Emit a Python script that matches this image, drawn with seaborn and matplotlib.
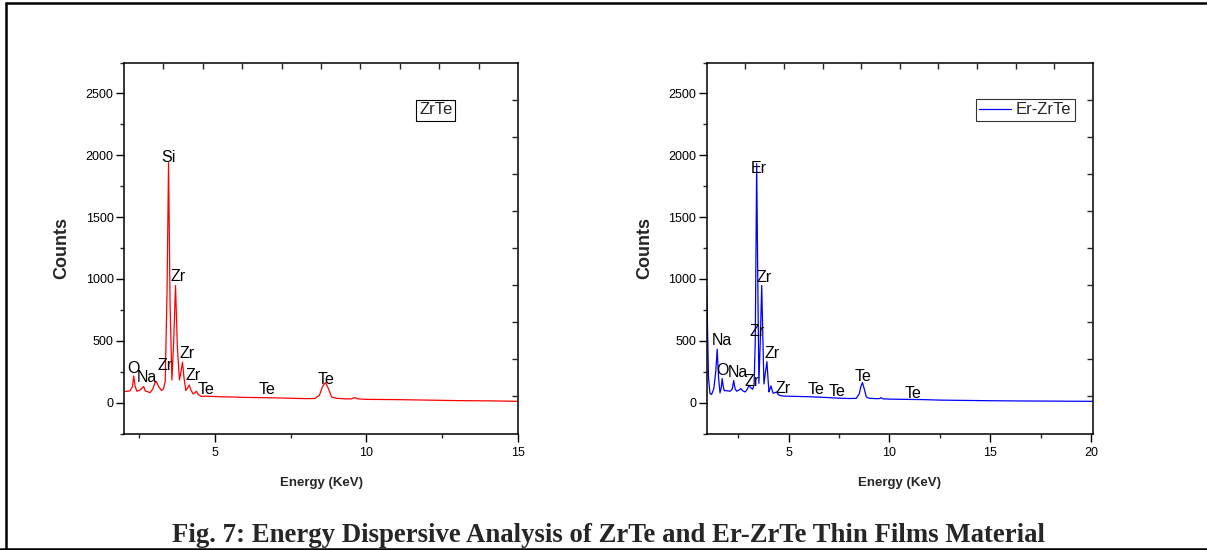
import numpy as np
import pandas as pd
import matplotlib
matplotlib.use("Agg")
import matplotlib.pyplot as plt
from matplotlib.lines import Line2D
from matplotlib.ticker import MultipleLocator
import seaborn as sns

# ---------------- data ----------------
zr_energy = [2.02, 2.20, 2.28, 2.32, 2.36, 2.42, 2.52, 2.60, 2.65, 2.70,
             2.78, 2.86, 2.95, 3.02, 3.07, 3.14, 3.24, 3.30, 3.36, 3.42,
             3.47, 3.52, 3.58, 3.64, 3.70, 3.76, 3.83, 3.88, 3.93, 3.98,
             4.04, 4.10, 4.15, 4.21, 4.28, 4.34, 4.39, 4.45, 4.55, 4.70,
             4.85, 5.20, 5.60, 6.00, 6.50, 7.00, 7.50, 8.00, 8.30, 8.45,
             8.55, 8.65, 8.75, 8.85, 9.00, 9.30, 9.50, 9.61, 9.72, 10.0,
             10.5, 11.0, 11.5, 12.0, 12.5, 13.0, 13.5, 14.0, 14.5, 15.0]
zr_counts = [89, 95, 130, 216, 140, 92, 100, 118, 130, 95,
             88, 80, 110, 160, 170, 130, 97, 110, 170, 900,
             1940, 800, 183, 500, 947, 450, 183, 250, 327, 200,
             97, 120, 142, 100, 70, 80, 92, 65, 50, 52,
             50, 47, 45, 42, 40, 38, 35, 32, 33, 60,
             130, 162, 110, 45, 35, 30, 30, 40, 30, 26,
             25, 24, 22, 20, 18, 16, 15, 14, 12, 10]

er_energy = [0.93, 0.97, 1.02, 1.09, 1.17, 1.28, 1.38, 1.45, 1.52, 1.59,
             1.65, 1.70, 1.75, 1.80, 1.95, 2.09, 2.20, 2.27, 2.34, 2.42,
             2.52, 2.62, 2.72, 2.84, 2.95, 3.03, 3.12, 3.21, 3.28, 3.34,
             3.41, 3.47, 3.52, 3.59, 3.66, 3.72, 3.77, 3.85, 3.92, 3.97,
             4.02, 4.07, 4.12, 4.18, 4.23, 4.32, 4.40, 4.48, 4.57, 4.80,
             5.30, 5.90, 6.50, 7.00, 7.55, 8.00, 8.35, 8.50, 8.58, 8.66,
             8.75, 8.85, 9.00, 9.30, 9.50, 9.58, 9.68, 10.0, 10.8, 11.7,
             12.5, 13.5, 15.0, 16.5, 18.0, 19.0, 20.08]
er_counts = [950, 600, 200, 75, 65, 110, 250, 432, 200, 78,
             120, 194, 130, 97, 95, 92, 110, 178, 110, 92,
             100, 113, 95, 86, 110, 140, 120, 108, 140, 500,
             1931, 900, 156, 500, 947, 500, 151, 250, 331, 200,
             86, 110, 135, 100, 75, 80, 86, 65, 57, 52,
             50, 48, 44, 40, 35, 33, 34, 70, 130, 162,
             110, 45, 35, 32, 32, 40, 30, 28, 26, 24,
             20, 18, 15, 13, 12, 11, 10]

zr_peaks = ["O", "Na", "Zr", "Si", "Zr", "Zr", "Zr", "Te", "Te", "Te"]
zr_peak_at = [(2.32, 278), (2.76, 205), (3.34, 300), (3.48, 1985), (3.80, 1020),
              (4.08, 394), (4.27, 216), (4.72, 103), (6.73, 103), (8.68, 184)]
er_peaks = ["Na", "O", "Na", "Zr", "Er", "Zr", "Zr", "Zr", "Zr", "Te", "Te", "Te", "Te"]
er_peak_at = [(1.70, 499), (1.72, 259), (2.47, 245), (3.18, 168), (3.53, 1896),
              (3.77, 1014), (3.44, 574), (4.16, 394), (4.70, 116), (6.36, 103),
              (7.41, 89), (8.70, 210), (11.16, 76)]

y_ticks = [0, 500, 1000, 1500, 2000, 2500]
x_ticks_left = [5, 10, 15]
x_ticks_right = [5, 10, 15, 20]

# ---------------- style ----------------
sns.set_style("ticks")
plt.rcParams['font.family'] = ['Liberation Sans', 'DejaVu Sans']
plt.rcParams['axes.linewidth'] = 1.1

fig = plt.figure(figsize=(12.07, 5.5), dpi=100)
fig.patch.set_facecolor("white")

ax_l = fig.add_axes([124/1207, 1-433.5/550, 394/1207, 371/550])
ax_r = fig.add_axes([706.7/1207, 1-433.5/550, 386.3/1207, 371/550])

df_l = pd.DataFrame({"Energy": zr_energy, "Counts": zr_counts, "Sample": "ZrTe"})
df_r = pd.DataFrame({"Energy": er_energy, "Counts": er_counts, "Sample": "Er-ZrTe"})

sns.lineplot(data=df_l, x="Energy", y="Counts", ax=ax_l, color="#ff0000",
             lw=0.9, sort=False, estimator=None, legend=False)
sns.lineplot(data=df_r, x="Energy", y="Counts", ax=ax_r, color="#0000ff",
             lw=0.9, sort=False, estimator=None, label="Er-ZrTe")

ax_l.set_xlim(2.0, 15.0)
ax_r.set_xlim(0.93, 20.1)

for ax, xt in ((ax_l, x_ticks_left), (ax_r, x_ticks_right)):
    ax.set_ylim(-250, 2750)
    ax.set_yticks(y_ticks)
    ax.set_xticks(xt)
    ax.xaxis.set_minor_locator(MultipleLocator(2.5))
    ax.yaxis.set_minor_locator(MultipleLocator(250))
    ax.tick_params(which="major", direction="out", length=5.5, width=1.0,
                   labelsize=9, pad=2, top=False, right=False, colors="black")
    ax.tick_params(which="minor", direction="out", length=2.8, width=1.0,
                   top=False, right=False)
    ax.tick_params(axis="x", pad=4)
    for s in ax.spines.values():
        s.set_visible(True)
        s.set_color("black")
        s.set_linewidth(1.1)
    ax.set_xlabel("Energy (KeV)", fontsize=9.5, fontweight="bold", labelpad=13)
    ax.set_ylabel("Counts", fontsize=13, fontweight="bold", labelpad=11)
    ax.grid(False)
    # top / right independent ticks (every tenth of the frame)
    tx = ax.twiny()
    tx.set_xlim(0, 1)
    tx.set_xticks(np.arange(0.1, 0.95, 0.1))
    tx.tick_params(axis="x", direction="in", length=4, width=1.0, labeltop=False, top=True)
    ty = ax.twinx()
    ty.set_ylim(0, 1)
    ty.set_yticks(np.arange(0.1, 0.95, 0.1))
    ty.tick_params(axis="y", direction="in", length=4, width=1.0, labelright=False, right=True)
    for t in (tx, ty):
        for s in t.spines.values():
            s.set_visible(False)

for lab, (x, y) in zip(zr_peaks, zr_peak_at):
    ax_l.text(x, y, lab, fontsize=11.5, ha="center", va="center", color="black")
for lab, (x, y) in zip(er_peaks, er_peak_at):
    ax_r.text(x, y, lab, fontsize=11.5, ha="center", va="center", color="black")

# left "legend" – boxed text
ax_l.text(435.8/1207, 1 - 110/550, "ZrTe", transform=fig.transFigure, fontsize=12,
          ha="center", va="center",
          bbox=dict(boxstyle="square,pad=0.18", fc="white", ec="black", lw=0.8))

leg = ax_r.legend(loc="upper right", bbox_to_anchor=((1074.5 - 706.7)/386.3, (433.5 - 99)/371),
                  fontsize=12, frameon=True, fancybox=False, handlelength=1.9,
                  handletextpad=0.3, borderpad=0.2, borderaxespad=0, edgecolor="black")
leg.get_frame().set_linewidth(0.8)

# caption
fig.text(0.5045, 1 - 535/550, "Fig. 7: Energy Dispersive Analysis of ZrTe and Er-ZrTe Thin Films Material",
         family=["Liberation Serif", "DejaVu Serif"], fontweight="bold", fontsize=19.3,
         ha="center", va="center")

# page frame
for xs, ys in (([6/1207, 6/1207], [0, 1 - 3/550]),
               ([6/1207, 1.0], [1 - 3/550, 1 - 3/550]),
               ([0, 1.0], [1 - 549/550, 1 - 549/550])):
    fig.add_artist(Line2D(xs, ys, transform=fig.transFigure, color="black", lw=1.8))

fig.savefig("out.png", dpi=100, facecolor="white")
